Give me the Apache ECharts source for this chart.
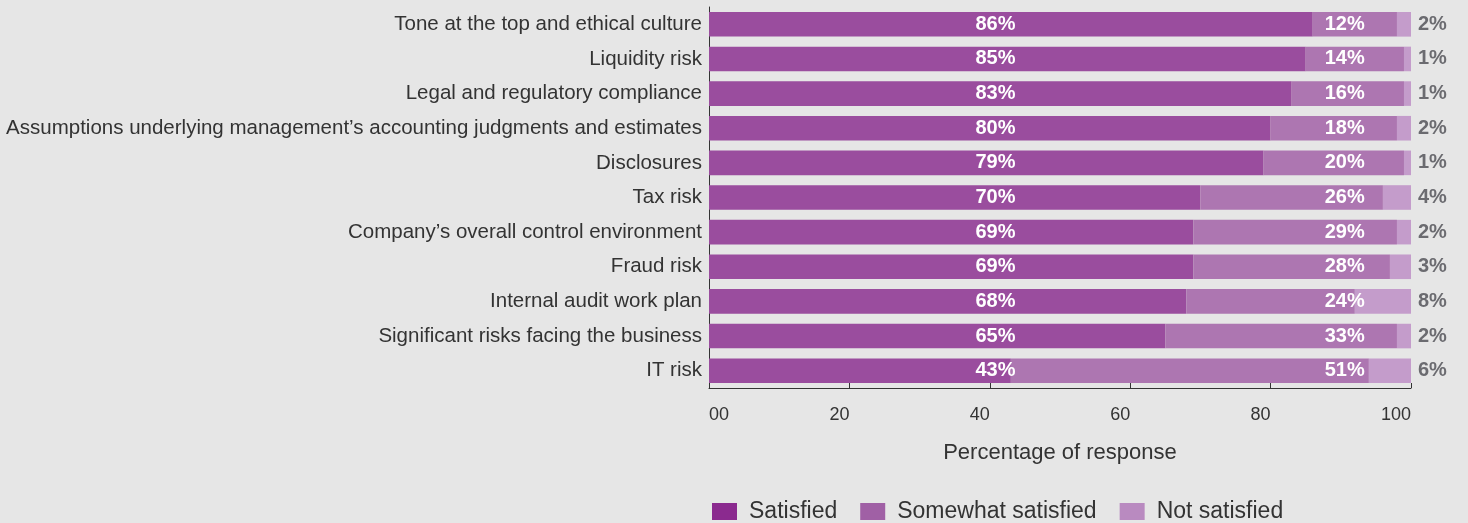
<!DOCTYPE html>
<html>
<head>
<meta charset="utf-8">
<script src="https://cdn.jsdelivr.net/npm/echarts@6/dist/echarts.min.js"></script>
<style>
html,body{margin:0;padding:0;background:#e6e6e6;}
#chart{width:1468px;height:523px;}
</style>
</head>
<body>
<div id="chart"></div>
<script>
const categories = [
  "Tone at the top and ethical culture",
  "Liquidity risk",
  "Legal and regulatory compliance",
  "Assumptions underlying management\u2019s accounting judgments and estimates",
  "Disclosures",
  "Tax risk",
  "Company\u2019s overall control environment",
  "Fraud risk",
  "Internal audit work plan",
  "Significant risks facing the business",
  "IT risk"
];
const satisfied = [86, 85, 83, 80, 79, 70, 69, 69, 68, 65, 43];
const somewhatSatisfied = [12, 14, 16, 18, 20, 26, 29, 28, 24, 33, 51];
const notSatisfied = [2, 1, 1, 2, 1, 4, 2, 3, 8, 2, 6];
const xTicks = [0, 20, 40, 60, 80, 100];
const xTickLabels = ["00", "20", "40", "60", "80", "100"];

const totals = categories.map((c, i) => satisfied[i] + somewhatSatisfied[i] + notSatisfied[i]);
const FONT = "'Liberation Sans', Arial, sans-serif";

const chart = echarts.init(document.getElementById('chart'), null, {renderer: 'canvas'});

function labelSeries(name, arr, pos, align, color) {
  return {
    name: name,
    type: 'bar',
    data: totals,
    barGap: '-100%',
    barCategoryGap: '29%',
    silent: true,
    z: 5,
    itemStyle: {color: 'rgba(0,0,0,0)'},
    label: {
      show: true,
      position: pos,
      align: align,
      verticalAlign: 'middle',
      distance: 7,
      color: color,
      fontFamily: FONT,
      fontWeight: 'bold',
      fontSize: 20,
      formatter: p => arr[p.dataIndex] + '%'
    }
  };
}

chart.setOption({
  backgroundColor: '#e6e6e6',
  animation: false,
  grid: {left: 709, right: 57, top: 7, bottom: 135, containLabel: false, outerBoundsMode: 'none'},
  legend: {
    left: 707,
    top: 495,
    padding: 5,
    itemWidth: 25,
    itemHeight: 17,
    itemGap: 23,
    icon: 'rect',
    textStyle: {fontFamily: FONT, fontSize: 23, color: '#333', padding: [0, 0, 0, 7]},
    data: [
      {name: 'Satisfied', itemStyle: {color: '#8b2a8f'}},
      {name: 'Somewhat satisfied', itemStyle: {color: '#a060a5'}},
      {name: 'Not satisfied', itemStyle: {color: '#b98ac0'}}
    ]
  },
  xAxis: {
    type: 'value',
    min: 0,
    max: 100,
    interval: 20,
    name: 'Percentage of response',
    nameLocation: 'middle',
    nameGap: 54,
    nameTextStyle: {fontFamily: FONT, fontSize: 22, color: '#333'},
    splitLine: {show: false},
    axisLine: {show: true, lineStyle: {color: '#333', width: 1}},
    axisTick: {show: true, inside: true, length: 5, lineStyle: {color: '#333'}},
    axisLabel: {
      margin: 18,
      fontFamily: FONT,
      fontSize: 18,
      color: '#333',
      align: 'right',
      alignMinLabel: 'left',
      alignMaxLabel: 'right',
      formatter: v => xTickLabels[xTicks.indexOf(v)]
    }
  },
  yAxis: {
    type: 'category',
    data: categories,
    inverse: true,
    axisLine: {show: true, lineStyle: {color: '#333', width: 1}},
    axisTick: {show: false},
    axisLabel: {margin: 7, fontFamily: FONT, fontSize: 20.5, color: '#333'}
  },
  series: [
    {name: 'Satisfied', type: 'bar', stack: 'total', data: satisfied,
     barCategoryGap: '29%', barGap: '-100%', itemStyle: {color: '#9a4d9e'}},
    {name: 'Somewhat satisfied', type: 'bar', stack: 'total', data: somewhatSatisfied,
     itemStyle: {color: '#ad76b1'}},
    {name: 'Not satisfied', type: 'bar', stack: 'total', data: notSatisfied,
     itemStyle: {color: '#c49ccb'}},
    labelSeries('lblSatisfied', satisfied, ['40.8%', '50%'], 'center', '#ffffff'),
    labelSeries('lblSomewhat', somewhatSatisfied, ['93.4%', '50%'], 'right', '#ffffff'),
    labelSeries('lblNot', notSatisfied, 'right', 'left', '#6b6b70')
  ]
});
</script>
</body>
</html>
